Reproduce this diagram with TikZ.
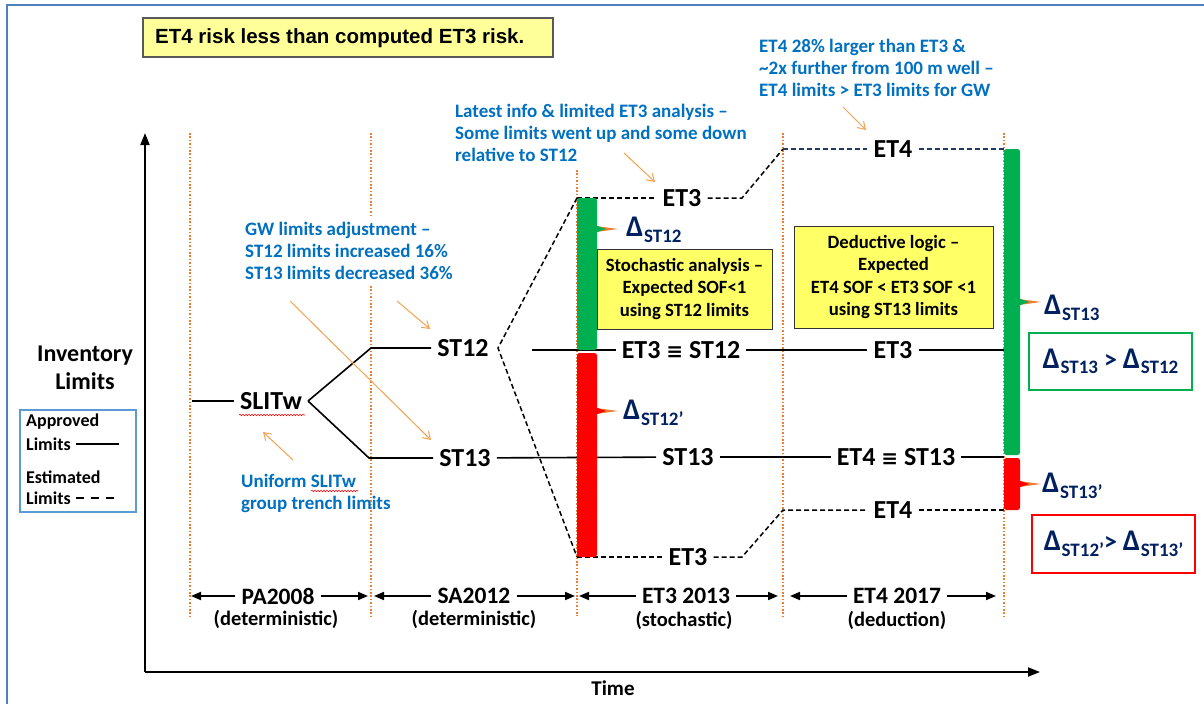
\documentclass[tikz,border=0pt]{standalone}
\usepackage{fontspec}
\setmainfont{Carlito}
\newfontfamily\arialfont{Liberation Sans}
\newfontfamily\djv{DejaVu Sans}
\usetikzlibrary{arrows.meta,decorations.pathmorphing}
\definecolor{borderblue}{HTML}{4F81BD}
\definecolor{legblue}{HTML}{5B9BD5}
\definecolor{notebl}{HTML}{0070C0}
\definecolor{dotor}{HTML}{ED7D31}
\definecolor{arror}{HTML}{F4A150}
\definecolor{grn}{HTML}{00B050}
\definecolor{rd}{HTML}{FF0000}
\definecolor{ylw}{HTML}{FFFF66}
\definecolor{titley}{HTML}{FFFF99}
\definecolor{navy}{HTML}{002060}
\definecolor{dnavy}{HTML}{1F3864}
\newcommand\dlt[1]{{\bfseries\fontsize{30}{30}\selectfont Δ}\kern0.5pt\raisebox{-5.5pt}{\bfseries\fontsize{19}{19}\selectfont #1}}
\newcommand\eqv{{\djv\bfseries\fontsize{20}{20}\selectfont ≡}}
\newcommand\tipbar[6]{%
  \fill[#6, rounded corners=2.5pt] (#1,#3) rectangle (#2,#4);
  \fill[dotor] (#2-1,#5-3) -- (#2+21,#5) -- (#2-1,#5+3) -- cycle;
  \fill[#6] (#2-1,#5-3.5) -- (#2+9,#5) -- (#2-1,#5+3.5) -- cycle;
}
\begin{document}
\begin{tikzpicture}[x=1pt,y=-1pt,
  lbl/.style={font=\bfseries\fontsize{26}{28}\selectfont, inner xsep=6pt, inner ysep=2pt},
  per/.style={font=\bfseries\fontsize{23.5}{26}\selectfont, inner xsep=6pt, inner ysep=1pt},
  sub/.style={font=\bfseries\fontsize{20.5}{22}\selectfont, inner sep=0pt},
  note/.style={font=\bfseries\fontsize{19}{22}\selectfont, text=notebl, align=left, anchor=north west, inner sep=0pt},
  lgd/.style={font=\bfseries\fontsize{18}{20}\selectfont, anchor=west, inner sep=0pt},
  ybox/.style={draw=black!80, fill=ylw, line width=0.8pt, align=center, font=\bfseries\fontsize{18.7}{22.5}\selectfont, inner sep=0pt},
  dl/.style={text=navy, inner sep=0pt, anchor=west},
  vdot/.style={dotor, line width=1.6pt, dash pattern=on 1.6pt off 1.8pt},
  appr/.style={line width=1.6pt},
  est/.style={line width=1.5pt, dash pattern=on 5pt off 3pt},
  oarr/.style={arror, line width=1pt, -{Straight Barb[length=7pt,width=9pt]}},
  perarr/.style={line width=1.8pt, -{Triangle[length=10pt,width=8pt]}},
  axis/.style={line width=2pt, -{Triangle[length=12pt,width=9pt]}},
  wavy/.style={rd, line width=0.6pt, decorate, decoration={snake,amplitude=0.7pt,segment length=3pt}},
]
\useasboundingbox (0,0) rectangle (1204,704);
\fill[white] (0,0) rectangle (1204,704);
\draw[borderblue, line width=1.5pt] (7,704) -- (7,5) -- (1204,5);

% title
\node (titlebox) [draw=black!65, fill=titley, line width=1.2pt, minimum width=410pt, minimum height=39pt, inner sep=0pt] at (348,37.5) {};
\node (title) [anchor=west, font=\arialfont\bfseries\fontsize{20.5}{22}\selectfont, inner sep=0pt] at (155,38) {ET4 risk less than computed ET3 risk.};

% period dividers
\foreach \x/\t in {190/133, 371/133, 577/170, 783/133, 1004/133}
  \draw[vdot] (\x,\t) -- (\x,616);

% axes
\coordinate (O) at (145,672);
\coordinate (ytop) at (145,133);
\coordinate (xend) at (1040,672);
\draw[axis] (O) -- (ytop);
\draw[axis] (O) -- (xend);
\node (time) [font=\bfseries\fontsize{21}{24}\selectfont] at (613,688) {Time};
\node (inv) [font=\bfseries\fontsize{24}{28}\selectfont, align=center] at (85,368) {Inventory\\Limits};

% legend
\node (legend) [draw=legblue, line width=1.2pt, minimum width=116pt, minimum height=102pt, inner sep=0pt] at (78,461) {};
\node (lg1) [lgd] at (26,422) {Approved};
\node (lg2) [lgd] at (26,444) {Limits};
\node (lg3) [lgd] at (26,477) {Estimated};
\node (lg4) [lgd] at (26,498) {Limits};
\coordinate (lg2e) at (119,444);
\coordinate (lg4e) at (118,498);
\draw[line width=1.4pt] ([xshift=5pt]lg2.east) -- (lg2e);
\draw[line width=1.4pt, dash pattern=on 8pt off 7pt] ([xshift=5pt]lg4.east) -- (lg4e);

% notes
\node (n1) [note] at (455,104) {Latest info \& limited ET3 analysis –\\Some limits went up and some down\\relative to ST12};
\node (n2) [note] at (759,39) {ET4 28\% larger than ET3 \&\\\textasciitilde2x further from 100 m well –\\ET4 limits > ET3 limits for GW};
\node (n3) [note, fill=white, inner ysep=6pt] at (245,216) {GW limits adjustment –\\ST12 limits increased 16\%\\ST13 limits decreased 36\%};
\node (n4) [note] at (241,474) {Uniform SLITw\\group trench limits};
\coordinate (w2a) at (311,491);
\coordinate (w2b) at (358,491);
\draw[wavy] (w2a) -- (w2b);

% approved limits
\coordinate (s0) at (192,401);
\node (slitw) [lbl] at (271,401) {SLITw};
\coordinate (w1a) at (239,415);
\coordinate (w1b) at (305,415);
\draw[wavy] (w1a) -- (w1b);
\coordinate (b12) at (371,348);
\coordinate (b13) at (369,458);
\node (st12) [lbl] at (463,348) {ST12};
\node (st13) [lbl] at (465,458) {ST13};
\draw[appr] (s0) -- (slitw);
\draw[appr] (slitw.east) -- (b12) -- (st12.west);
\draw[appr] (slitw.east) -- (b13) -- (st13.west);

\coordinate (st12r) at (532,350);
\node (e3s12) [lbl] at (681,350) {ET3 \eqv{} ST12};
\node (e3m) [lbl] at (893,350) {ET3};
\coordinate (r12) at (1004,350);
\draw[appr] (st12r) -- (e3s12);
\draw[appr] (e3s12) -- (e3m);
\draw[appr] (e3m) -- (r12);

\node (st13m) [lbl] at (688,457) {ST13};
\node (e4s13) [lbl] at (896,457) {ET4 \eqv{} ST13};
\coordinate (r13) at (1004,457);
\draw[appr] (st13) -- (st13m);
\draw[appr] (st13m) -- (e4s13);
\draw[appr] (e4s13) -- (r13);

% estimated limits
\coordinate (apex) at (498,348);
\coordinate (c3t) at (577,198);
\coordinate (c3b) at (577,557);
\draw[est] (c3t) -- (apex) -- (c3b);
\node (e3t) [lbl] at (682,198) {ET3};
\coordinate (k1) at (742,198);
\coordinate (k2) at (783,149);
\node (e4t) [lbl] at (893,149) {ET4};
\coordinate (e4te) at (1004,149);
\draw[est] (c3t) -- (e3t);
\draw[est] (e3t) -- (k1) -- (k2);
\draw[est, dnavy] (k2) -- (e4t);
\draw[est, dnavy] (e4t) -- (e4te);
\node (e3b) [lbl] at (688,557) {ET3};
\coordinate (k3) at (742,557);
\coordinate (k4) at (783,510);
\node (e4b) [lbl] at (893,510) {ET4};
\coordinate (e4be) at (1004,510);
\draw[est] (c3b) -- (e3b);
\draw[est] (e3b) -- (k3) -- (k4) -- (e4b);
\draw[est] (e4b) -- (e4be);

% bars
\tipbar{577}{597}{198}{350}{229}{grn}
\tipbar{577}{597}{353}{557}{411}{rd}
\tipbar{1004}{1020}{149}{455}{302}{grn}
\tipbar{1004}{1020}{458}{510}{484}{rd}

% yellow boxes
\node (stoch) [ybox, minimum width=175pt, minimum height=80pt] at (684.5,289) {Stochastic analysis –\\Expected SOF<1\\using ST12 limits};
\node (deduc) [ybox, minimum width=199pt, minimum height=102pt] at (893.5,277) {Deductive logic –\\Expected\\ET4 SOF < ET3 SOF <1\\using ST13 limits};

% deltas
\node (d12) [dl] at (626,230) {\dlt{ST12}};
\node (d12p) [dl] at (623,413) {\dlt{ST12’}};
\node (d13) [dl] at (1044,308) {\dlt{ST13}};
\node (d13p) [dl] at (1042,486) {\dlt{ST13’}};
\node (gbox) [draw=grn, line width=2.5pt, minimum width=163pt, minimum height=57pt, text=navy, inner sep=0pt] at (1110.5,361.5) {\dlt{ST13}\hspace{6pt}{\bfseries\fontsize{26}{26}\selectfont >}\hspace{6pt}\dlt{ST12}};
\node (rbox) [draw=rd, line width=2.5pt, minimum width=163pt, minimum height=58pt, text=navy, inner sep=0pt] at (1113.5,544) {\dlt{ST12’}{\bfseries\fontsize{26}{26}\selectfont >}\hspace{6pt}\dlt{ST13’}};

% orange pointer arrows
\coordinate (a1s) at (843,107); \coordinate (a1e) at (866,130);
\coordinate (a2s) at (624,153); \coordinate (a2e) at (655,182);
\coordinate (a3s) at (397,301); \coordinate (a3e) at (430,329);
\coordinate (a4s) at (290,301); \coordinate (a4e) at (431,440);
\coordinate (a5s) at (293,460); \coordinate (a5e) at (263,432);
\draw[oarr] (a1s) -- (a1e);
\draw[oarr] (a2s) -- (a2e);
\draw[oarr] (a3s) -- (a3e);
\draw[oarr] (a4s) -- (a4e);
\draw[oarr] (a5s) -- (a5e);

% periods
\node (pa) [per] at (278,596) {PA2008};
\coordinate (pa1) at (191,596); \coordinate (pa2) at (368,596);
\draw[perarr] (pa) -- (pa1); \draw[perarr] (pa) -- (pa2);
\node (pad) [sub] at (276,619) {(deterministic)};
\node (sa) [per] at (474,596) {SA2012};
\coordinate (sa1) at (374,596); \coordinate (sa2) at (575,596);
\draw[perarr] (sa) -- (sa1); \draw[perarr] (sa) -- (sa2);
\node (sad) [sub] at (474,619) {(deterministic)};
\node (et3p) [per] at (686,596) {ET3 2013};
\coordinate (et1) at (579,596); \coordinate (et2) at (778,596);
\draw[perarr] (et3p) -- (et1); \draw[perarr] (et3p) -- (et2);
\node (et3d) [sub] at (684,620) {(stochastic)};
\node (et4p) [per] at (897,596) {ET4 2017};
\coordinate (e41) at (790,596); \coordinate (e42) at (996,596);
\draw[perarr] (et4p) -- (e41); \draw[perarr] (et4p) -- (e42);
\node (et4d) [sub] at (897,620) {(deduction)};
\end{tikzpicture}
\end{document}
